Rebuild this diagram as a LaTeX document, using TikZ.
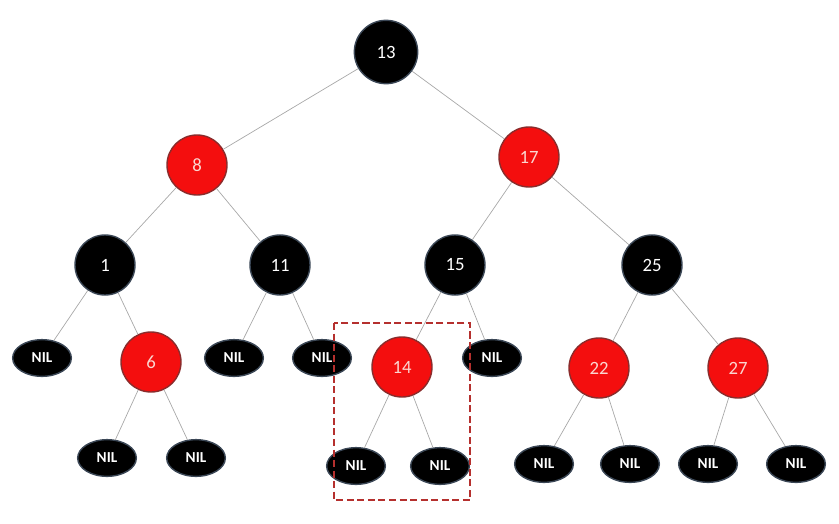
\documentclass[tikz,border=0pt]{standalone}
\usepackage{fontspec}
\setmainfont{Carlito}
\usetikzlibrary{graphs, shapes.geometric}
\definecolor{rbred}{HTML}{F40E0E}
\definecolor{rbredline}{HTML}{8A2C2C}
\definecolor{rbredtext}{HTML}{FBD6D0}
\definecolor{rbblackline}{HTML}{3B4756}
\definecolor{rbedge}{HTML}{A8A8A8}
\definecolor{rbbox}{HTML}{B5302E}
\tikzset{
    blacknode/.style={circle, fill=black, draw=rbblackline, line width=1.2pt,
        text=white, minimum size=1.8cm, font=\fontsize{16}{18}\selectfont},
    rednode/.style={circle, fill=rbred, draw=rbredline, line width=1.2pt,
        text=rbredtext, minimum size=1.8cm, font=\fontsize{16}{18}\selectfont},
    nilnode/.style={ellipse, fill=black, draw=rbblackline, line width=1.2pt,
        text=white, minimum width=1.76cm, minimum height=1.1cm, inner sep=0pt,
        font=\bfseries\fontsize{13}{15}\selectfont},
}
\begin{document}
\begin{tikzpicture}[x=0.03cm, y=-0.03cm]
            \useasboundingbox (0,0) rectangle (839,523);
            % inner nodes
            \node[blacknode, minimum size=1.9cm] (n13) at (386,52) {13};
            \node[rednode] (n8) at (197,165) {8};
            \node[rednode] (n17) at (529,157) {17};
            \node[blacknode] (n1) at (105,265) {1};
            \node[blacknode] (n11) at (280,265) {11};
            \node[blacknode] (n15) at (455,265) {15};
            \node[blacknode] (n25) at (652,265) {25};
            \node[rednode] (n6) at (151,362) {6};
            \node[rednode] (n14) at (402,367) {14};
            \node[rednode] (n22) at (599,368) {22};
            \node[rednode] (n27) at (738,368) {27};
            % leaves
            \node[nilnode] (nil1) at (42,358) {NIL};
            \node[nilnode] (nil11a) at (234,358) {NIL};
            \node[nilnode] (nil11b) at (322,358) {NIL};
            \node[nilnode] (nil15) at (492,358) {NIL};
            \node[nilnode] (nil6a) at (107,458) {NIL};
            \node[nilnode] (nil6b) at (196,458) {NIL};
            \node[nilnode] (nil14a) at (356,466) {NIL};
            \node[nilnode] (nil14b) at (440,466) {NIL};
            \node[nilnode] (nil22a) at (544,464) {NIL};
            \node[nilnode] (nil22b) at (630,464) {NIL};
            \node[nilnode] (nil27a) at (708,464) {NIL};
            \node[nilnode] (nil27b) at (796,464) {NIL};
            \graph [use existing nodes, edges={draw=rbedge, line width=0.6pt}] {
                n13 -- {
                    n8 -- {
                        n1 -- {nil1, n6 -- {nil6a, nil6b}},
                        n11 -- {nil11a, nil11b}
                    },
                    n17 -- {
                        n15 -- {n14 -- {nil14a, nil14b}, nil15},
                        n25 -- {n22 -- {nil22a, nil22b}, n27 -- {nil27a, nil27b}}
                    }
                };
            };
            \draw[rbbox, line width=2.2pt, dash pattern=on 6pt off 3pt]
                (334,323) rectangle (470,500);
        \end{tikzpicture}
\end{document}
